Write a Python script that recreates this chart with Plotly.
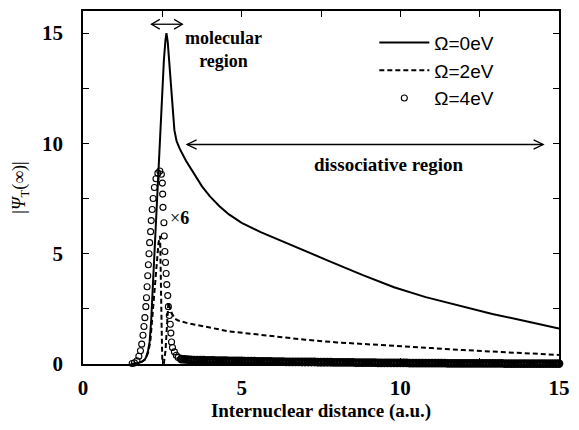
import plotly.graph_objects as go

# ---- data ----
x_om0 = [1.5, 1.7, 1.85, 1.95, 2.0, 2.05, 2.1, 2.15, 2.2, 2.25, 2.3, 2.35, 2.4, 2.45, 2.5,
         2.55, 2.6, 2.63, 2.67, 2.72, 2.78, 2.83, 2.88, 2.95, 3.05, 3.25, 3.5, 3.75, 4.0,
         4.3, 4.6, 5.0, 5.6, 6.7, 7.7, 8.8, 9.8, 10.8, 11.9, 12.9, 14.0, 15.0]
y_om0 = [0.0, 0.03, 0.1, 0.2, 0.35, 0.6, 1.0, 2.0, 3.5, 5.0, 6.6, 8.1, 9.5, 11.0, 12.5,
         13.8, 14.7, 15.0, 14.6, 13.6, 12.5, 11.4, 10.6, 10.1, 9.75, 9.2, 8.6, 8.05, 7.6,
         7.15, 6.78, 6.4, 5.98, 5.3, 4.7, 4.04, 3.48, 3.03, 2.62, 2.27, 1.93, 1.61]

x_om2 = [1.6, 1.8, 1.95, 2.05, 2.12, 2.18, 2.25, 2.32, 2.38, 2.43, 2.46, 2.48, 2.5, 2.55,
         2.6, 2.65, 2.69, 2.73, 2.8, 2.9, 3.0, 3.3, 3.66, 4.0, 4.6, 5.2, 6.0, 7.0, 8.0, 9.0,
         10.0, 11.0, 12.0, 13.0, 14.0, 15.0]
y_om2 = [0.0, 0.05, 0.2, 0.5, 1.0, 2.0, 3.3, 4.6, 5.5, 5.8, 4.0, 1.5, 0.1, 0.05,
         0.6, 1.8, 2.8, 2.6, 2.3, 2.05, 1.97, 1.85, 1.76, 1.65, 1.48, 1.38, 1.25, 1.1, 0.98,
         0.9, 0.83, 0.72, 0.63, 0.55, 0.47, 0.41]

# Omega = 4 eV (multiplied by 6), peak region
x_om4_peak = [1.55, 1.62, 1.7, 1.76, 1.81, 1.85, 1.89, 1.92, 1.95, 1.98, 2.0, 2.02, 2.04,
              2.06, 2.08, 2.1, 2.13, 2.15, 2.18, 2.21, 2.25, 2.3, 2.36, 2.42, 2.47, 2.5,
              2.51, 2.52, 2.55, 2.56, 2.58, 2.6, 2.62, 2.64, 2.67, 2.69, 2.72, 2.75, 2.77,
              2.79, 2.82, 2.88, 2.94, 3.0]
y_om4_peak = [0.02, 0.05, 0.15, 0.35, 0.6, 0.9, 1.3, 1.7, 2.1, 2.6, 3.0, 3.5, 4.0,
              4.5, 5.0, 5.5, 6.0, 6.5, 7.0, 7.5, 8.0, 8.4, 8.65, 8.75, 8.6, 8.2,
              7.7, 7.1, 6.4, 5.8, 5.1, 4.6, 4.1, 3.6, 3.1, 2.6, 2.2, 1.8, 1.4,
              1.0, 0.75, 0.55, 0.4, 0.3]
# Omega = 4 eV tail, x from 3.1 to 15.0 in steps of 0.1
y_om4_tail = [0.22, 0.21, 0.2, 0.19, 0.18, 0.18, 0.17, 0.17, 0.16, 0.16,
              0.16, 0.15, 0.15, 0.15, 0.15, 0.14, 0.14, 0.14, 0.14, 0.14,
              0.13, 0.13, 0.13, 0.13, 0.12, 0.12, 0.12, 0.12, 0.12, 0.11,
              0.11, 0.11, 0.11, 0.1, 0.1, 0.1, 0.1, 0.1, 0.09, 0.09,
              0.09, 0.09, 0.09, 0.08, 0.08, 0.08, 0.08, 0.08, 0.07, 0.07,
              0.07, 0.07, 0.07, 0.07, 0.07, 0.06, 0.06, 0.06, 0.06, 0.06,
              0.06, 0.06, 0.05, 0.05, 0.05, 0.05, 0.05, 0.05, 0.05, 0.05,
              0.05, 0.05, 0.04, 0.04, 0.04, 0.04, 0.04, 0.04, 0.04, 0.04,
              0.04, 0.04, 0.04, 0.04, 0.03, 0.03, 0.03, 0.03, 0.03, 0.03,
              0.03, 0.03, 0.03, 0.03, 0.03, 0.03, 0.03, 0.03, 0.03, 0.03,
              0.03, 0.03, 0.02, 0.02, 0.02, 0.02, 0.02, 0.02, 0.02, 0.02,
              0.02, 0.02, 0.02, 0.02, 0.02, 0.02, 0.02, 0.02, 0.02, 0.02]
x_om4_tail = [round(3.1 + 0.1 * i, 2) for i in range(len(y_om4_tail))]

names = ["Ω=0eV", "Ω=2eV", "Ω=4eV"]
x_ticks = [0, 5, 10, 15]
y_ticks = [0, 5, 10, 15]

SERIF = "Liberation Serif, Times New Roman, serif"
SANS = "Liberation Sans, Arial, sans-serif"

fig = go.Figure()
fig.add_trace(go.Scatter(x=x_om0, y=y_om0, mode="lines", name=names[0],
                         line=dict(color="black", width=2), legendgroup="a"))
fig.add_trace(go.Scatter(x=x_om2, y=y_om2, mode="lines", name=names[1],
                         line=dict(color="black", width=2, dash="5px,3px"), legendgroup="b"))
fig.add_trace(go.Scatter(x=x_om4_peak, y=y_om4_peak, mode="markers", name=names[2],
                         marker=dict(symbol="circle-open", size=6, color="black",
                                     line=dict(width=1.1, color="black")),
                         legendgroup="c", cliponaxis=False))
fig.add_trace(go.Scatter(x=x_om4_tail, y=y_om4_tail, mode="markers", name=names[2],
                         marker=dict(symbol="circle-open", size=6, color="black",
                                     line=dict(width=2.8, color="black")),
                         legendgroup="c", showlegend=False, cliponaxis=False))

axis_common = dict(showline=True, linecolor="black", linewidth=1.5, mirror="ticks",
                   ticks="inside", ticklen=6, tickwidth=1.2, tickcolor="black",
                   showgrid=False, zeroline=False,
                   tickfont=dict(family=SERIF, size=21, color="black", weight="bold"),
                   minor=dict(dtick=2.5, ticks="inside", ticklen=6, tickwidth=1.2,
                              tickcolor="black", showgrid=False))

fig.update_xaxes(range=[0, 15], tickvals=x_ticks, ticklabelstandoff=4,
                 title=dict(text="Internuclear distance (a.u.)", standoff=3,
                            font=dict(family=SERIF, size=19, color="black", weight="bold")),
                 **axis_common)
fig.update_yaxes(range=[0, 16], tickvals=y_ticks, ticklabelstandoff=14,
                 title=dict(text="|<i>Ψ</i><sub>T</sub>(∞)|", standoff=12,
                            font=dict(family=SERIF, size=18, color="black")),
                 **axis_common)

# arrows as shapes (data coordinates)
def hline_arrow(x0, x1, y, dx, dy):
    return [
        dict(type="line", x0=x0, x1=x1, y0=y, y1=y, line=dict(color="black", width=1.3)),
        dict(type="path", path=f"M {x0+dx},{y+dy} L {x0},{y} L {x0+dx},{y-dy}",
             line=dict(color="black", width=1.3)),
        dict(type="path", path=f"M {x1-dx},{y+dy} L {x1},{y} L {x1-dx},{y-dy}",
             line=dict(color="black", width=1.3)),
    ]

shapes = hline_arrow(2.16, 3.13, 15.4, 0.26, 0.22) + hline_arrow(3.28, 14.5, 9.95, 0.3, 0.21)

annotations = [
    dict(x=4.44, y=14.25, text="<b>molecular<br>region</b>", showarrow=False,
         font=dict(family=SERIF, size=18, color="black"), xanchor="center", yanchor="middle"),
    dict(x=9.63, y=9.05, text="<b>dissociative region</b>", showarrow=False,
         font=dict(family=SERIF, size=19, color="black"), xanchor="center", yanchor="middle"),
    dict(x=3.03, y=6.6, text="×<b>6</b>", showarrow=False,
         font=dict(family=SERIF, size=18, color="black"), xanchor="center", yanchor="middle"),
]

fig.update_layout(
    width=579, height=430,
    margin=dict(l=83, r=16, t=9, b=66),
    paper_bgcolor="white", plot_bgcolor="white",
    shapes=shapes, annotations=annotations,
    legend=dict(x=0.612, y=0.964, xanchor="left", yanchor="top",
                font=dict(family=SANS, size=19, color="black"),
                bgcolor="rgba(0,0,0,0)", tracegroupgap=0, itemwidth=50),
    showlegend=True,
)

fig.write_html("out.html")
